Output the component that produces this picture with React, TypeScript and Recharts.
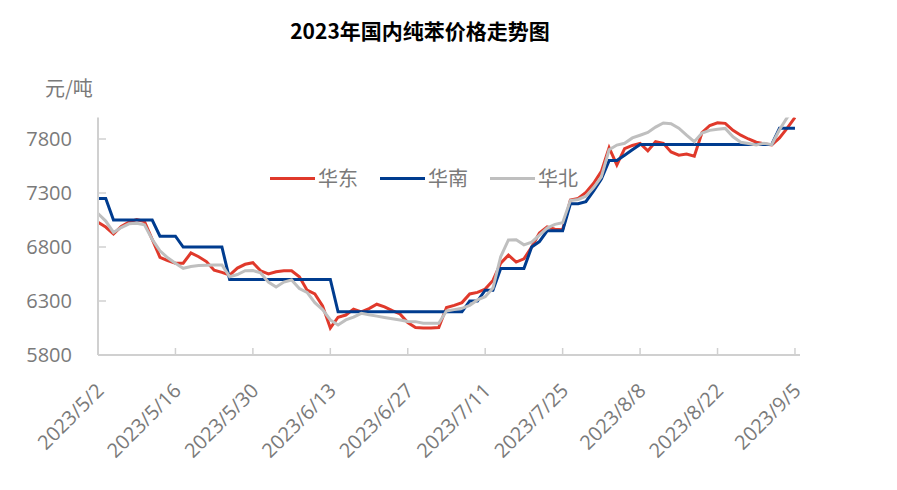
import React from 'react';
import { LineChart, Line, XAxis, YAxis, Legend } from 'recharts';

const dates = [
  '2023/5/2', '2023/5/3', '2023/5/4', '2023/5/5', '2023/5/8', '2023/5/9', '2023/5/10', '2023/5/11', '2023/5/12',
  '2023/5/15', '2023/5/16', '2023/5/17', '2023/5/18', '2023/5/19', '2023/5/22', '2023/5/23', '2023/5/24', '2023/5/25',
  '2023/5/26', '2023/5/29', '2023/5/30', '2023/5/31',
  '2023/6/1', '2023/6/2', '2023/6/5', '2023/6/6', '2023/6/7', '2023/6/8', '2023/6/9', '2023/6/12', '2023/6/13',
  '2023/6/14', '2023/6/15', '2023/6/16', '2023/6/19', '2023/6/20', '2023/6/21', '2023/6/22', '2023/6/23', '2023/6/26',
  '2023/6/27', '2023/6/28', '2023/6/29', '2023/6/30',
  '2023/7/3', '2023/7/4', '2023/7/5', '2023/7/6', '2023/7/7', '2023/7/10', '2023/7/11', '2023/7/12', '2023/7/13',
  '2023/7/14', '2023/7/17', '2023/7/18', '2023/7/19', '2023/7/20', '2023/7/21', '2023/7/24', '2023/7/25', '2023/7/26',
  '2023/7/27', '2023/7/28', '2023/7/31',
  '2023/8/1', '2023/8/2', '2023/8/3', '2023/8/4', '2023/8/7', '2023/8/8', '2023/8/9', '2023/8/10', '2023/8/11',
  '2023/8/14', '2023/8/15', '2023/8/16', '2023/8/17', '2023/8/18', '2023/8/21', '2023/8/22', '2023/8/23', '2023/8/24',
  '2023/8/25', '2023/8/28', '2023/8/29', '2023/8/30', '2023/8/31',
  '2023/9/1', '2023/9/4', '2023/9/5',
];

const tickLabels = [
  '2023/5/2', '2023/5/16', '2023/5/30', '2023/6/13', '2023/6/27',
  '2023/7/11', '2023/7/25', '2023/8/8', '2023/8/22', '2023/9/5',
];

// 华东
const eastPrices = [
  7030, 6985, 6920, 6990, 7030, 7055, 7035, 6870, 6705, 6673,
  6650, 6650, 6745, 6710, 6665, 6585, 6565, 6540, 6605, 6640,
  6655, 6580, 6550, 6570, 6580, 6580, 6525, 6400, 6365, 6255,
  6050, 6150, 6170, 6225, 6200, 6230, 6270, 6245, 6210, 6180,
  6100, 6055, 6050, 6050, 6055, 6240, 6260, 6285, 6365, 6380,
  6410, 6490, 6650, 6725, 6660, 6690, 6800, 6930, 6985, 6965,
  6960, 7235, 7250, 7305, 7390, 7500, 7720, 7560, 7710, 7740,
  7760, 7690, 7775, 7760, 7680, 7650, 7660, 7640, 7860, 7925,
  7950, 7945, 7880, 7835, 7800, 7770, 7755, 7745, 7810, 7900,
  8000,
];

// 华南
const southPrices = [
  7250, 7250, 7050, 7050, 7050, 7050, 7050, 7050, 6900, 6900,
  6900, 6800, 6800, 6800, 6800, 6800, 6800, 6500, 6500, 6500,
  6500, 6500, 6500, 6500, 6500, 6500, 6500, 6500, 6500, 6500,
  6500, 6200, 6200, 6200, 6200, 6200, 6200, 6200, 6200, 6200,
  6200, 6200, 6200, 6200, 6200, 6200, 6200, 6200, 6300, 6300,
  6400, 6400, 6600, 6600, 6600, 6600, 6800, 6850, 6950, 6950,
  6950, 7200, 7200, 7220, 7320, 7430, 7600, 7600, 7650, 7700,
  7750, 7750, 7750, 7750, 7750, 7750, 7750, 7750, 7750, 7750,
  7750, 7750, 7750, 7750, 7750, 7750, 7750, 7750, 7900, 7900,
  7900,
];

// 华北
const northPrices = [
  7110, 7040, 6935, 6980, 7015, 7020, 7005, 6870, 6765, 6700,
  6649, 6603, 6620, 6628, 6632, 6633, 6633, 6525, 6545, 6580,
  6582, 6560, 6475, 6430, 6475, 6495, 6415, 6380, 6285, 6220,
  6125, 6078, 6125, 6150, 6186, 6172, 6160, 6147, 6135, 6124,
  6110, 6109, 6095, 6093, 6093, 6208, 6220, 6232, 6260, 6310,
  6340, 6420, 6710, 6865, 6868, 6820, 6845, 6910, 6975, 7010,
  7025, 7230, 7240, 7270, 7350, 7450, 7700, 7744, 7760, 7810,
  7835, 7860, 7910, 7948, 7942, 7900, 7835, 7775, 7855, 7880,
  7890, 7898, 7820, 7770, 7758, 7745, 7760, 7748, 7885, 8000,
  8080,
];

const seriesNames = ['华东', '华南', '华北'];
const seriesColors = ['#E0392B', '#003C8F', '#BFBFBF'];
const yTicks = [5800, 6300, 6800, 7300, 7800];

const data = dates.map((d, i) => ({
  idx: i,
  date: d,
  east: eastPrices[i],
  south: southPrices[i],
  north: northPrices[i],
}));
const xTicks = tickLabels.map((l) => dates.indexOf(l));

const axisColor = '#D0D0D0';
const labelColor = '#7A7A7A';
const numFont = "'Open Sans', 'Noto Sans CJK SC', sans-serif";
const cjkFont = "'Noto Sans CJK SC', 'Open Sans', sans-serif";

const XTick = (props: any) => {
  const { x, y, payload } = props;
  return (
    <g>
      <line x1={x} x2={x} y1={y} y2={y - 7} stroke={axisColor} strokeWidth={1.5} />
      <text
        transform={`translate(${x + 7},${y + 37}) rotate(-45)`}
        textAnchor="end"
        fill={labelColor}
        fontSize={20}
        fontFamily={numFont}
      >
        {dates[payload.value]}
      </text>
    </g>
  );
};

const YTick = (props: any) => {
  const { x, y, payload } = props;
  return (
    <g>
      {payload.value !== 5800 && (
        <line x1={x} x2={x + 8} y1={y} y2={y} stroke={axisColor} strokeWidth={1.5} />
      )}
      <text x={x - 26} y={y} dy="0.36em" textAnchor="end" fill={labelColor} fontSize={20} fontFamily={numFont}>
        {payload.value}
      </text>
    </g>
  );
};

const renderLegend = () => (
  <div style={{ display: 'flex', alignItems: 'center' }}>
    {seriesNames.map((name, i) => (
      <div key={name} style={{ display: 'flex', alignItems: 'center', marginRight: 22 }}>
        <span style={{ display: 'inline-block', width: 45, height: 3, background: seriesColors[i], marginRight: 3 }} />
        <span style={{ fontFamily: cjkFont, fontSize: 20, color: labelColor, lineHeight: '24px' }}>{name}</span>
      </div>
    ))}
  </div>
);

export default function App() {
  return (
    <div style={{ position: 'absolute', left: 0, top: 0, width: 897, height: 490, background: '#fff' }}>
      <div
        style={{
          position: 'absolute',
          left: 0,
          top: 15,
          width: 840,
          textAlign: 'center',
          fontFamily: cjkFont,
          fontWeight: 700,
          fontSize: 21,
          lineHeight: '30px',
          color: '#000',
        }}
      >
        2023年国内纯苯价格走势图
      </div>
      <div
        style={{
          position: 'absolute',
          left: 45,
          top: 76,
          fontFamily: cjkFont,
          fontSize: 20,
          lineHeight: '24px',
          color: labelColor,
        }}
      >
        元/吨
      </div>
      <LineChart width={897} height={490} data={data} margin={{ top: 117.4, right: 97, bottom: 0, left: 0 }}>
        <XAxis
          dataKey="idx"
          type="number"
          domain={[0, 90.65]}
          ticks={xTicks}
          height={135}
          tickSize={0}
          tickMargin={0}
          tickLine={false}
          tick={(p: any) => <XTick {...p} />}
          axisLine={{ stroke: axisColor, strokeWidth: 2 }}
          allowDataOverflow
          interval={0}
        />
        <YAxis
          type="number"
          domain={[5800, 8000]}
          ticks={yTicks}
          width={98}
          tickSize={0}
          tickMargin={0}
          tickLine={false}
          tick={(p: any) => <YTick {...p} />}
          axisLine={{ stroke: axisColor, strokeWidth: 2 }}
          allowDataOverflow
          interval={0}
        />
        <Legend
          layout="horizontal"
          verticalAlign="middle"
          align="center"
          content={renderLegend}
          wrapperStyle={{ position: 'absolute', left: 270, top: 166, width: 'auto', height: 24 }}
        />
        <Line type="linear" dataKey="east" name={seriesNames[0]} stroke={seriesColors[0]} strokeWidth={3} dot={false} isAnimationActive={false} />
        <Line type="linear" dataKey="south" name={seriesNames[1]} stroke={seriesColors[1]} strokeWidth={3} dot={false} isAnimationActive={false} />
        <Line type="linear" dataKey="north" name={seriesNames[2]} stroke={seriesColors[2]} strokeWidth={3} dot={false} isAnimationActive={false} />
      </LineChart>
    </div>
  );
}
